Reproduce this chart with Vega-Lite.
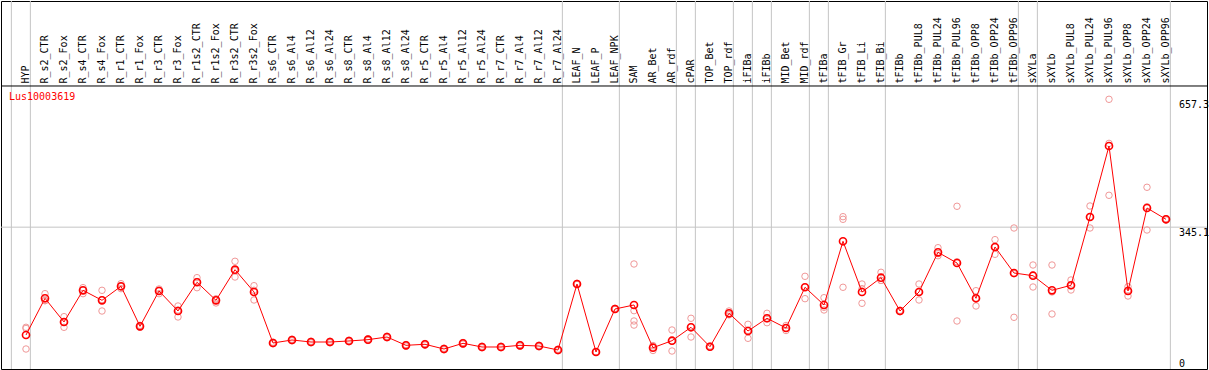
{
  "$schema": "https://vega.github.io/schema/vega-lite/v6.json",
  "width": 1206,
  "height": 368,
  "autosize": {"type": "none"},
  "padding": {"left": 1, "top": 1, "right": 2, "bottom": 1},
  "background": "white",
  "title": {
    "text": "Lus10003619",
    "anchor": "start",
    "frame": "group",
    "orient": "top",
    "offset": -111,
    "dx": 8,
    "color": "#ff0000",
    "font": "DejaVu Sans Mono",
    "fontSize": 10,
    "fontWeight": "normal",
    "baseline": "bottom"
  },
  "config": {
    "view": {"stroke": "black", "strokeWidth": 1},
    "font": "DejaVu Sans Mono"
  },
  "datasets": {
    "means": [
      {"sample": "HYP", "value": 81.8},
      {"sample": "R_s2_CTR", "value": 171.4},
      {"sample": "R_s2_Fox", "value": 113.6},
      {"sample": "R_s4_CTR", "value": 190.9},
      {"sample": "R_s4_Fox", "value": 166.5},
      {"sample": "R_r1_CTR", "value": 200.7},
      {"sample": "R_r1_Fox", "value": 103.0},
      {"sample": "R_r3_CTR", "value": 189.3},
      {"sample": "R_r3_Fox", "value": 140.4},
      {"sample": "R_r1s2_CTR", "value": 210.5},
      {"sample": "R_r1s2_Fox", "value": 166.5},
      {"sample": "R_r3s2_CTR", "value": 241.3},
      {"sample": "R_r3s2_Fox", "value": 186.8},
      {"sample": "R_s6_CTR", "value": 62.3},
      {"sample": "R_s6_Al4", "value": 69.6},
      {"sample": "R_s6_Al12", "value": 64.7},
      {"sample": "R_s6_Al24", "value": 64.7},
      {"sample": "R_s8_CTR", "value": 67.2},
      {"sample": "R_s8_Al4", "value": 70.4},
      {"sample": "R_s8_Al12", "value": 76.9},
      {"sample": "R_s8_Al24", "value": 56.6},
      {"sample": "R_r5_CTR", "value": 59.1},
      {"sample": "R_r5_Al4", "value": 47.6},
      {"sample": "R_r5_Al12", "value": 61.5},
      {"sample": "R_r5_Al24", "value": 52.5},
      {"sample": "R_r7_CTR", "value": 52.5},
      {"sample": "R_r7_Al4", "value": 56.6},
      {"sample": "R_r7_Al12", "value": 54.9},
      {"sample": "R_r7_Al24", "value": 45.2},
      {"sample": "LEAF_N", "value": 206.3},
      {"sample": "LEAF_P", "value": 40.3},
      {"sample": "LEAF_NPK", "value": 145.3},
      {"sample": "SAM", "value": 155.1},
      {"sample": "AR_Bet", "value": 50.8},
      {"sample": "AR_rdf", "value": 67.9},
      {"sample": "cPAR", "value": 100.6},
      {"sample": "TOP_Bet", "value": 53.2},
      {"sample": "TOP_rdf", "value": 134.8},
      {"sample": "iFIBa", "value": 91.6},
      {"sample": "iFIBb", "value": 122.6},
      {"sample": "MID_Bet", "value": 98.9},
      {"sample": "MID_rdf", "value": 198.3},
      {"sample": "tFIBa", "value": 155.1},
      {"sample": "tFIB_Gr", "value": 310.6},
      {"sample": "tFIB_Li", "value": 186.8},
      {"sample": "tFIB_Bi", "value": 221.7},
      {"sample": "tFIBb", "value": 140.4},
      {"sample": "tFIBb_PUL8", "value": 186.8},
      {"sample": "tFIBb_PUL24", "value": 283.7},
      {"sample": "tFIBb_PUL96", "value": 257.6},
      {"sample": "tFIBb_OPP8", "value": 171.4},
      {"sample": "tFIBb_OPP24", "value": 296.7},
      {"sample": "tFIBb_OPP96", "value": 233.2},
      {"sample": "sXYLa", "value": 226.6},
      {"sample": "sXYLb", "value": 190.9},
      {"sample": "sXYLb_PUL8", "value": 203.2},
      {"sample": "sXYLb_PUL24", "value": 370.0},
      {"sample": "sXYLb_PUL96", "value": 543.3},
      {"sample": "sXYLb_OPP8", "value": 189.3},
      {"sample": "sXYLb_OPP24", "value": 391.9},
      {"sample": "sXYLb_OPP96", "value": 364.3}
    ],
    "reps": [
      {"sample": "HYP", "value": 100.6}, {"sample": "HYP", "value": 97.8}, {"sample": "HYP", "value": 47.6},
      {"sample": "R_s2_CTR", "value": 182.7}, {"sample": "R_s2_CTR", "value": 166.0}, {"sample": "R_s2_CTR", "value": 165.5},
      {"sample": "R_s2_Fox", "value": 126.6}, {"sample": "R_s2_Fox", "value": 113.6}, {"sample": "R_s2_Fox", "value": 100.6},
      {"sample": "R_s4_CTR", "value": 197.4}, {"sample": "R_s4_CTR", "value": 191.0}, {"sample": "R_s4_CTR", "value": 182.7},
      {"sample": "R_s4_Fox", "value": 190.9}, {"sample": "R_s4_Fox", "value": 168.2}, {"sample": "R_s4_Fox", "value": 140.4},
      {"sample": "R_r1_CTR", "value": 207.1}, {"sample": "R_r1_CTR", "value": 200.0}, {"sample": "R_r1_CTR", "value": 195.0},
      {"sample": "R_r1_Fox", "value": 105.5}, {"sample": "R_r1_Fox", "value": 103.0}, {"sample": "R_r1_Fox", "value": 100.6},
      {"sample": "R_r3_CTR", "value": 194.1}, {"sample": "R_r3_CTR", "value": 191.0}, {"sample": "R_r3_CTR", "value": 182.7},
      {"sample": "R_r3_Fox", "value": 152.6}, {"sample": "R_r3_Fox", "value": 142.8}, {"sample": "R_r3_Fox", "value": 125.8},
      {"sample": "R_r1s2_CTR", "value": 221.8}, {"sample": "R_r1s2_CTR", "value": 212.4}, {"sample": "R_r1s2_CTR", "value": 197.3},
      {"sample": "R_r1s2_Fox", "value": 170.0}, {"sample": "R_r1s2_Fox", "value": 169.5}, {"sample": "R_r1s2_Fox", "value": 160.0},
      {"sample": "R_r3s2_CTR", "value": 261.8}, {"sample": "R_r3s2_CTR", "value": 238.7}, {"sample": "R_r3s2_CTR", "value": 223.4},
      {"sample": "R_r3s2_Fox", "value": 202.2}, {"sample": "R_r3s2_Fox", "value": 191.0}, {"sample": "R_r3s2_Fox", "value": 167.3},
      {"sample": "R_s6_CTR", "value": 64.3}, {"sample": "R_s6_CTR", "value": 62.3}, {"sample": "R_s6_CTR", "value": 60.3},
      {"sample": "R_s6_Al4", "value": 71.6}, {"sample": "R_s6_Al4", "value": 69.6}, {"sample": "R_s6_Al4", "value": 67.6},
      {"sample": "R_s6_Al12", "value": 66.7}, {"sample": "R_s6_Al12", "value": 64.7}, {"sample": "R_s6_Al12", "value": 62.7},
      {"sample": "R_s6_Al24", "value": 66.7}, {"sample": "R_s6_Al24", "value": 64.7}, {"sample": "R_s6_Al24", "value": 62.7},
      {"sample": "R_s8_CTR", "value": 69.2}, {"sample": "R_s8_CTR", "value": 67.2}, {"sample": "R_s8_CTR", "value": 65.2},
      {"sample": "R_s8_Al4", "value": 72.4}, {"sample": "R_s8_Al4", "value": 70.4}, {"sample": "R_s8_Al4", "value": 68.4},
      {"sample": "R_s8_Al12", "value": 78.9}, {"sample": "R_s8_Al12", "value": 76.9}, {"sample": "R_s8_Al12", "value": 74.9},
      {"sample": "R_s8_Al24", "value": 58.6}, {"sample": "R_s8_Al24", "value": 56.6}, {"sample": "R_s8_Al24", "value": 54.6},
      {"sample": "R_r5_CTR", "value": 61.1}, {"sample": "R_r5_CTR", "value": 59.1}, {"sample": "R_r5_CTR", "value": 57.1},
      {"sample": "R_r5_Al4", "value": 49.6}, {"sample": "R_r5_Al4", "value": 47.6}, {"sample": "R_r5_Al4", "value": 45.6},
      {"sample": "R_r5_Al12", "value": 63.5}, {"sample": "R_r5_Al12", "value": 61.5}, {"sample": "R_r5_Al12", "value": 59.5},
      {"sample": "R_r5_Al24", "value": 54.5}, {"sample": "R_r5_Al24", "value": 52.5}, {"sample": "R_r5_Al24", "value": 50.5},
      {"sample": "R_r7_CTR", "value": 54.5}, {"sample": "R_r7_CTR", "value": 52.5}, {"sample": "R_r7_CTR", "value": 50.5},
      {"sample": "R_r7_Al4", "value": 58.6}, {"sample": "R_r7_Al4", "value": 56.6}, {"sample": "R_r7_Al4", "value": 54.6},
      {"sample": "R_r7_Al12", "value": 56.9}, {"sample": "R_r7_Al12", "value": 54.9}, {"sample": "R_r7_Al12", "value": 52.9},
      {"sample": "R_r7_Al24", "value": 47.2}, {"sample": "R_r7_Al24", "value": 45.2}, {"sample": "R_r7_Al24", "value": 43.2},
      {"sample": "LEAF_N", "value": 208.0}, {"sample": "LEAF_N", "value": 206.0}, {"sample": "LEAF_N", "value": 205.0},
      {"sample": "LEAF_P", "value": 41.0}, {"sample": "LEAF_P", "value": 40.0}, {"sample": "LEAF_P", "value": 40.0},
      {"sample": "LEAF_NPK", "value": 147.0}, {"sample": "LEAF_NPK", "value": 145.0}, {"sample": "LEAF_NPK", "value": 144.0},
      {"sample": "SAM", "value": 255.2}, {"sample": "SAM", "value": 141.2}, {"sample": "SAM", "value": 116.0}, {"sample": "SAM", "value": 106.0},
      {"sample": "AR_Bet", "value": 56.0}, {"sample": "AR_Bet", "value": 52.0}, {"sample": "AR_Bet", "value": 44.0},
      {"sample": "AR_rdf", "value": 94.0}, {"sample": "AR_rdf", "value": 67.0}, {"sample": "AR_rdf", "value": 42.7},
      {"sample": "cPAR", "value": 122.6}, {"sample": "cPAR", "value": 102.3}, {"sample": "cPAR", "value": 76.9},
      {"sample": "TOP_Bet", "value": 55.0}, {"sample": "TOP_Bet", "value": 53.0}, {"sample": "TOP_Bet", "value": 51.6},
      {"sample": "TOP_rdf", "value": 140.4}, {"sample": "TOP_rdf", "value": 133.0}, {"sample": "TOP_rdf", "value": 131.0},
      {"sample": "iFIBa", "value": 107.9}, {"sample": "iFIBa", "value": 93.2}, {"sample": "iFIBa", "value": 73.7},
      {"sample": "iFIBb", "value": 134.8}, {"sample": "iFIBb", "value": 121.2}, {"sample": "iFIBb", "value": 111.8},
      {"sample": "MID_Bet", "value": 105.0}, {"sample": "MID_Bet", "value": 98.9}, {"sample": "MID_Bet", "value": 92.8},
      {"sample": "MID_rdf", "value": 225.1}, {"sample": "MID_rdf", "value": 199.3}, {"sample": "MID_rdf", "value": 170.5},
      {"sample": "tFIBa", "value": 172.9}, {"sample": "tFIBa", "value": 149.5}, {"sample": "tFIBa", "value": 142.9},
      {"sample": "tFIB_Gr", "value": 370.7}, {"sample": "tFIB_Gr", "value": 364.3}, {"sample": "tFIB_Gr", "value": 198.3},
      {"sample": "tFIB_Li", "value": 206.3}, {"sample": "tFIB_Li", "value": 194.9}, {"sample": "tFIB_Li", "value": 159.2},
      {"sample": "tFIB_Bi", "value": 234.9}, {"sample": "tFIB_Bi", "value": 215.0}, {"sample": "tFIB_Bi", "value": 215.2},
      {"sample": "tFIBb", "value": 142.0}, {"sample": "tFIBb", "value": 140.4}, {"sample": "tFIBb", "value": 138.8},
      {"sample": "tFIBb_PUL8", "value": 206.3}, {"sample": "tFIBb_PUL8", "value": 186.8}, {"sample": "tFIBb_PUL8", "value": 167.3},
      {"sample": "tFIBb_PUL24", "value": 295.0}, {"sample": "tFIBb_PUL24", "value": 280.6}, {"sample": "tFIBb_PUL24", "value": 275.5},
      {"sample": "tFIBb_PUL96", "value": 396.1}, {"sample": "tFIBb_PUL96", "value": 260.7}, {"sample": "tFIBb_PUL96", "value": 116.0},
      {"sample": "tFIBb_OPP8", "value": 190.0}, {"sample": "tFIBb_OPP8", "value": 171.6}, {"sample": "tFIBb_OPP8", "value": 152.6},
      {"sample": "tFIBb_OPP24", "value": 314.6}, {"sample": "tFIBb_OPP24", "value": 296.7}, {"sample": "tFIBb_OPP24", "value": 278.8},
      {"sample": "tFIBb_OPP96", "value": 343.1}, {"sample": "tFIBb_OPP96", "value": 231.5}, {"sample": "tFIBb_OPP96", "value": 125.0},
      {"sample": "sXYLa", "value": 252.7}, {"sample": "sXYLa", "value": 228.1}, {"sample": "sXYLa", "value": 199.0},
      {"sample": "sXYLb", "value": 252.7}, {"sample": "sXYLb", "value": 186.9}, {"sample": "sXYLb", "value": 133.1},
      {"sample": "sXYLb_PUL8", "value": 216.1}, {"sample": "sXYLb_PUL8", "value": 201.8}, {"sample": "sXYLb_PUL8", "value": 191.7},
      {"sample": "sXYLb_PUL24", "value": 396.8}, {"sample": "sXYLb_PUL24", "value": 370.1}, {"sample": "sXYLb_PUL24", "value": 343.1},
      {"sample": "sXYLb_PUL96", "value": 657.3}, {"sample": "sXYLb_PUL96", "value": 549.7}, {"sample": "sXYLb_PUL96", "value": 422.9},
      {"sample": "sXYLb_OPP8", "value": 199.7}, {"sample": "sXYLb_OPP8", "value": 191.2}, {"sample": "sXYLb_OPP8", "value": 177.0},
      {"sample": "sXYLb_OPP24", "value": 442.5}, {"sample": "sXYLb_OPP24", "value": 395.0}, {"sample": "sXYLb_OPP24", "value": 338.2},
      {"sample": "sXYLb_OPP96", "value": 366.0}, {"sample": "sXYLb_OPP96", "value": 364.3}, {"sample": "sXYLb_OPP96", "value": 362.6}
    ],
    "seps": [
      {"sample": "HYP"}, {"sample": "R_r7_Al24"}, {"sample": "LEAF_NPK"}, {"sample": "AR_rdf"},
      {"sample": "cPAR"}, {"sample": "TOP_rdf"}, {"sample": "iFIBa"}, {"sample": "iFIBb"},
      {"sample": "MID_rdf"}, {"sample": "tFIBa"}, {"sample": "tFIB_Bi"}, {"sample": "tFIBb_OPP96"},
      {"sample": "sXYLa"}, {"sample": "sXYLb_OPP96"}
    ],
    "edge": [{"sample": "HYP"}],
    "hlines": [{"value": 345.1, "kind": "grid"}],
    "header": [{"value": 689.8, "kind": "header"}]
  },
  "encoding": {
    "x": {
      "field": "sample",
      "type": "nominal",
      "scale": {
        "type": "band",
        "domain": ["HYP","R_s2_CTR","R_s2_Fox","R_s4_CTR","R_s4_Fox","R_r1_CTR","R_r1_Fox","R_r3_CTR","R_r3_Fox","R_r1s2_CTR","R_r1s2_Fox","R_r3s2_CTR","R_r3s2_Fox","R_s6_CTR","R_s6_Al4","R_s6_Al12","R_s6_Al24","R_s8_CTR","R_s8_Al4","R_s8_Al12","R_s8_Al24","R_r5_CTR","R_r5_Al4","R_r5_Al12","R_r5_Al24","R_r7_CTR","R_r7_Al4","R_r7_Al12","R_r7_Al24","LEAF_N","LEAF_P","LEAF_NPK","SAM","AR_Bet","AR_rdf","cPAR","TOP_Bet","TOP_rdf","iFIBa","iFIBb","MID_Bet","MID_rdf","tFIBa","tFIB_Gr","tFIB_Li","tFIB_Bi","tFIBb","tFIBb_PUL8","tFIBb_PUL24","tFIBb_PUL96","tFIBb_OPP8","tFIBb_OPP24","tFIBb_OPP96","sXYLa","sXYLb","sXYLb_PUL8","sXYLb_PUL24","sXYLb_PUL96","sXYLb_OPP8","sXYLb_OPP24","sXYLb_OPP96"],
        "range": [15.5, 1174.5],
        "paddingInner": 0,
        "paddingOuter": 0
      },
      "axis": {
        "orient": "top",
        "offset": -85,
        "title": null,
        "ticks": false,
        "tickSize": 0,
        "grid": false,
        "domain": false,
        "labelAngle": -90,
        "labelAlign": "left",
        "labelBaseline": "middle",
        "labelPadding": 3,
        "labelFont": "DejaVu Sans Mono",
        "labelFontSize": 10,
        "labelColor": "black",
        "labelOverlap": false,
        "labelBound": false,
        "labelLimit": 200
      }
    }
  },
  "layer": [
    {
      "data": {"name": "seps"},
      "mark": {"type": "rule", "color": "#c4c4c4", "strokeWidth": 1},
      "encoding": {
        "x": {"field": "sample", "type": "nominal", "bandPosition": 0.73}
      }
    },
    {
      "data": {"name": "edge"},
      "mark": {"type": "rule", "color": "#c4c4c4", "strokeWidth": 1},
      "encoding": {
        "x": {"field": "sample", "type": "nominal", "bandPosition": -0.27}
      }
    },
    {
      "data": {"name": "hlines"},
      "mark": {"type": "rule", "color": "#c4c4c4", "strokeWidth": 1},
      "encoding": {
        "x": null,
        "y": {"field": "value", "type": "quantitative"}
      }
    },
    {
      "data": {"name": "header"},
      "mark": {"type": "rule", "color": "black", "strokeWidth": 1},
      "encoding": {
        "x": null,
        "y": {"field": "value", "type": "quantitative"}
      }
    },
    {
      "data": {"name": "reps"},
      "mark": {"type": "point", "shape": "circle", "filled": false, "stroke": "#f09898", "strokeWidth": 1, "size": 42, "opacity": 1},
      "encoding": {
        "y": {
          "field": "value",
          "type": "quantitative",
          "scale": {"domain": [0, 657.3], "range": [367.5, 98.3], "nice": false, "zero": false},
          "axis": {
            "orient": "right",
            "offset": -28.5,
            "title": null,
            "values": [0, 345.1, 657.3],
            "format": ".1~f",
            "ticks": false,
            "tickSize": 0,
            "domain": false,
            "grid": false,
            "labelPadding": 0,
            "labelAlign": "left",
            "labelBaseline": {"condition": {"test": "datum.value == 0", "value": "bottom"}, "value": "top"},
            "labelFont": "DejaVu Sans Mono",
            "labelFontSize": 10,
            "labelColor": "black",
            "labelFlush": false,
            "labelOverlap": false
          }
        }
      }
    },
    {
      "data": {"name": "means"},
      "mark": {"type": "line", "color": "#ff0000", "strokeWidth": 1},
      "encoding": {
        "y": {"field": "value", "type": "quantitative", "scale": {"domain": [0, 657.3], "range": [367.5, 98.3], "nice": false, "zero": false}},
        "order": {"value": null}
      }
    },
    {
      "data": {"name": "means"},
      "mark": {"type": "point", "shape": "circle", "filled": false, "stroke": "#ff0000", "strokeWidth": 1.6, "size": 50, "opacity": 1},
      "encoding": {
        "y": {"field": "value", "type": "quantitative", "scale": {"domain": [0, 657.3], "range": [367.5, 98.3], "nice": false, "zero": false}}
      }
    }
  ]
}
